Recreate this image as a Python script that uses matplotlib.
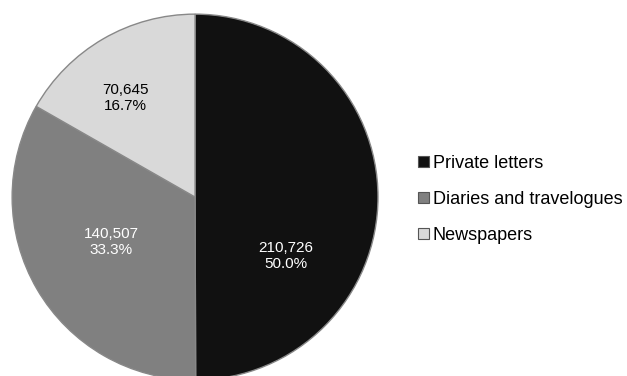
import numpy as np
import matplotlib
matplotlib.use('Agg')
import matplotlib.pyplot as plt
from matplotlib.patches import Patch

plt.rcParams['font.family'] = ['Liberation Sans', 'DejaVu Sans']

categories = ["Private letters", "Diaries and travelogues", "Newspapers"]
counts = [210726, 140507, 70645]
pct_labels = ["50.0%", "33.3%", "16.7%"]
colors = ["#111111", "#808080", "#d9d9d9"]
text_colors = ["white", "white", "black"]

fig = plt.figure(figsize=(6.27, 3.76), dpi=100)
ax = fig.add_axes([0.0191, -0.0106, 0.584, 0.973])

wedges, _ = ax.pie(counts, colors=colors, startangle=90, counterclock=False,
                   radius=1.0, wedgeprops=dict(edgecolor="#888888", linewidth=1.0))
ax.set_xlim(-1, 1)
ax.set_ylim(-1, 1)
ax.set_aspect('equal')
ax.axis('off')

# label placement (angle offset, radius) roughly as in the original
label_adjust = [(-33, 0.59), (-2, 0.52), (5, 0.66)]
for w, n, p, tc, (dang, r) in zip(wedges, counts, pct_labels, text_colors, label_adjust):
    mid = (w.theta1 + w.theta2) / 2 + dang
    x = r * np.cos(np.radians(mid))
    y = r * np.sin(np.radians(mid))
    ax.text(x, y, f"{n:,}\n{p}", ha='center', va='center',
            color=tc, fontsize=11, linespacing=1.2)

handles = [Patch(facecolor=c, edgecolor="#555555", linewidth=0.8) for c in colors]
fig.legend(handles, categories, loc='center left', bbox_to_anchor=(0.641, 0.47),
           frameon=False, fontsize=13, handlelength=0.6, handleheight=0.6,
           handletextpad=0.2, labelspacing=1.05)

fig.savefig("out.png", dpi=100)
